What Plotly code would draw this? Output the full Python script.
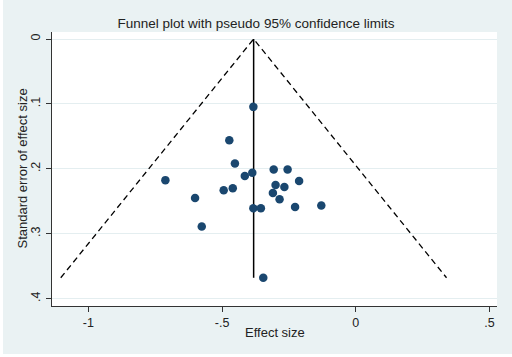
import plotly.graph_objects as go

effect = [-0.383, -0.473, -0.452, -0.387, -0.415, -0.712, -0.494, -0.460, -0.601, -0.576,
          -0.383, -0.355, -0.346, -0.307, -0.255, -0.212, -0.300, -0.267, -0.310, -0.285,
          -0.227, -0.129]
se = [0.1046, 0.156, 0.192, 0.206, 0.211, 0.2175, 0.233, 0.230, 0.245, 0.289,
      0.261, 0.261, 0.368, 0.201, 0.201, 0.219, 0.225, 0.228, 0.2375, 0.247,
      0.259, 0.2565]
pooled = -0.382
se_max = 0.368
x_ticks = [-1, -0.5, 0, 0.5]
x_labels = ["-1", "-.5", "0", ".5"]
y_ticks = [0, 0.1, 0.2, 0.3, 0.4]
y_labels = ["0", ".1", ".2", ".3", ".4"]

fig = go.Figure()
fig.add_trace(go.Scatter(
    x=[pooled - 1.96 * se_max, pooled, pooled + 1.96 * se_max],
    y=[se_max, 0, se_max], mode="lines",
    line=dict(color="black", width=1.3, dash="6px,4px"), hoverinfo="skip"))
fig.add_trace(go.Scatter(
    x=[pooled, pooled], y=[0, se_max], mode="lines",
    line=dict(color="black", width=1.5), hoverinfo="skip"))
fig.add_trace(go.Scatter(
    x=effect, y=se, mode="markers",
    marker=dict(color="#1a476f", size=8.5)))

fig.update_layout(
    width=512, height=357,
    margin=dict(l=52, r=15, t=32, b=51),
    paper_bgcolor="#eaf2f3", plot_bgcolor="white",
    showlegend=False,
    font=dict(family="Liberation Sans, Arial, sans-serif", color="#222", size=12),
    title=dict(text="Funnel plot with pseudo 95% confidence limits",
               x=0.5, xanchor="center", y=0.935, yanchor="middle",
               font=dict(size=13.5, color="#222")),
    shapes=[
        dict(type="rect", xref="paper", yref="paper", x0=-0.2, x1=1.1, y0=-0.2, y1=-0.175,
             fillcolor="white", line=dict(width=0), layer="above"),
        dict(type="rect", xref="paper", yref="paper", x0=-0.2, x1=-0.1101, y0=-0.2, y1=1.2,
             fillcolor="white", line=dict(width=0), layer="above"),
    ],
    annotations=[
        dict(text="Standard error of effect size", xref="paper", yref="paper",
             x=-0.0685, y=0.5, xanchor="center", yanchor="middle", textangle=-90,
             showarrow=False, font=dict(size=13, color="#222")),
        dict(text="Effect size", xref="paper", yref="paper",
             x=0.5, y=-0.0985, xanchor="center", yanchor="middle",
             showarrow=False, font=dict(size=13, color="#222")),
    ],
)
fig.update_xaxes(range=[-1.136, 0.528], tickvals=x_ticks, ticktext=x_labels,
                 showgrid=False, zeroline=False, showline=True, linecolor="#333",
                 linewidth=1, ticks="outside", ticklen=5, tickcolor="#333",
                 automargin=False, ticklabelstandoff=0,
                 tickfont=dict(size=12.5))
fig.update_yaxes(range=[0.4115, -0.0108], tickvals=y_ticks, ticktext=y_labels,
                 showgrid=True, gridcolor="#e4eef0", gridwidth=1, zeroline=False,
                 showline=True, linecolor="#333", linewidth=1,
                 ticks="outside", ticklen=5, tickcolor="#333", tickangle=-90,
                 automargin=False, ticklabelstandoff=1,
                 tickfont=dict(size=12.5))
fig.write_html("out.html", config={"displayModeBar": False},
               post_script="document.body.style.margin='0';")
